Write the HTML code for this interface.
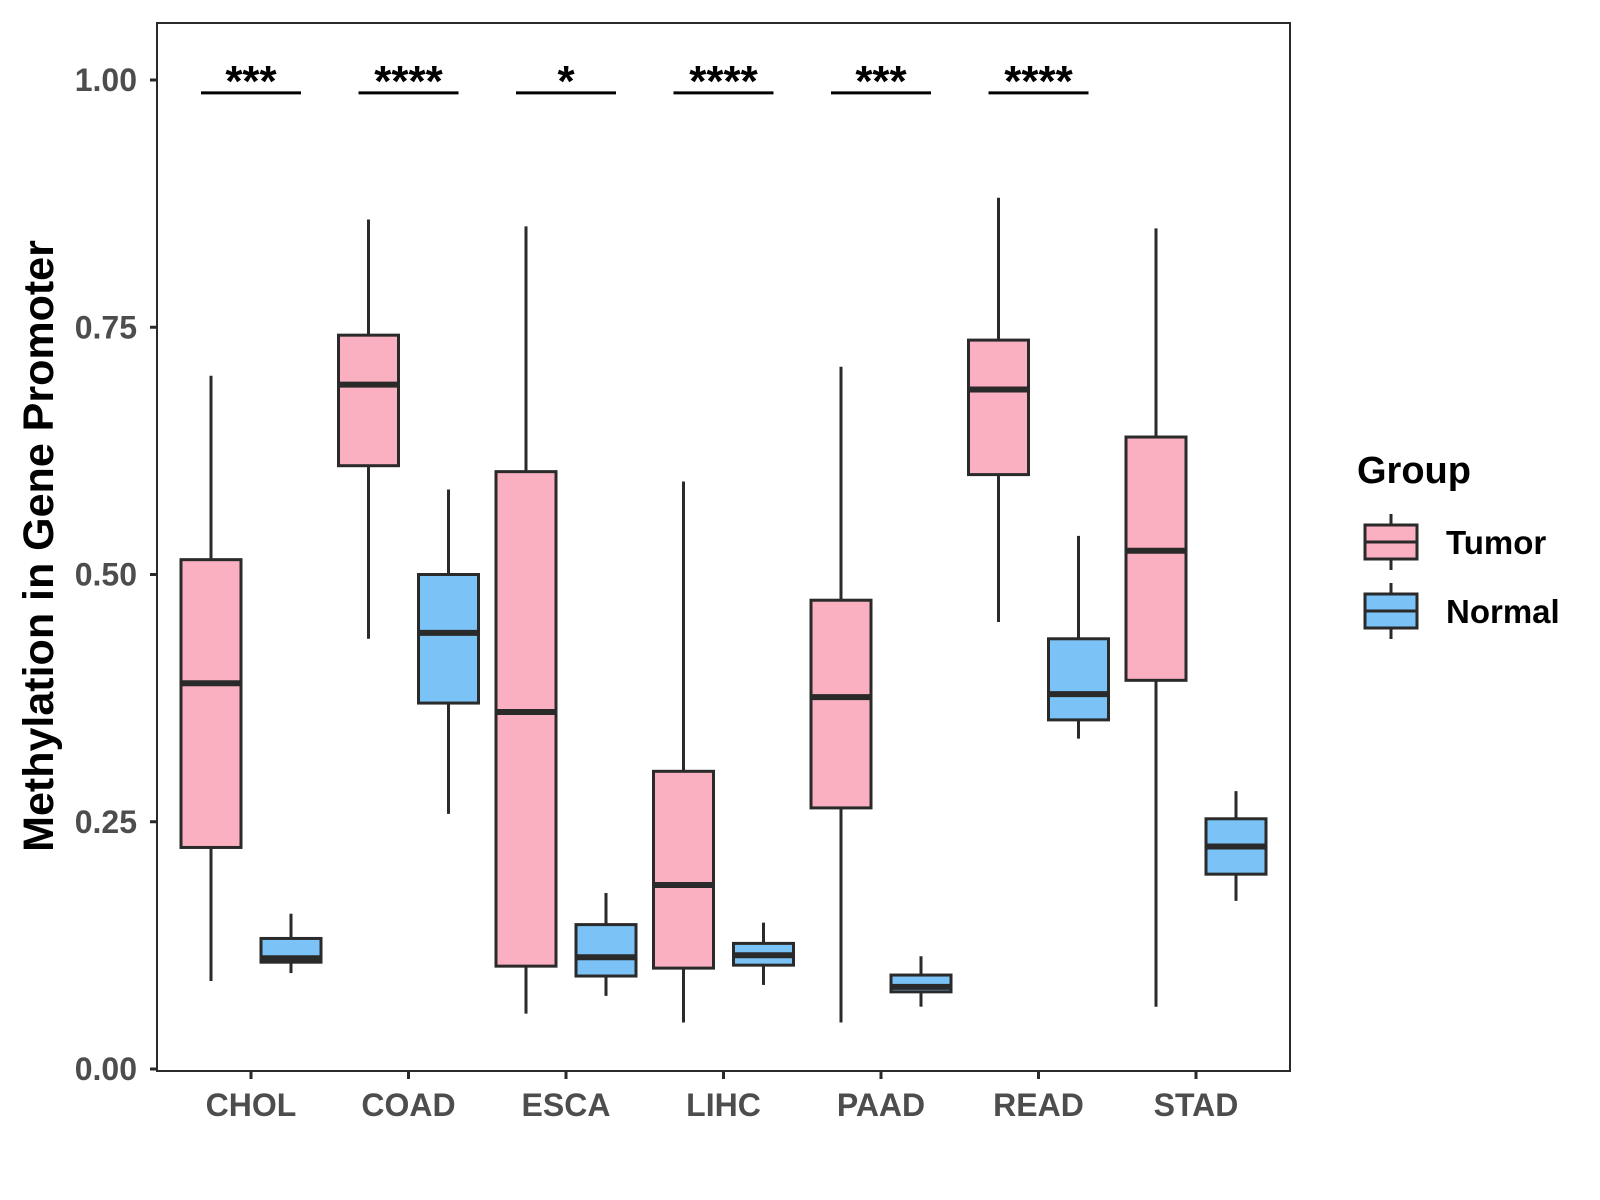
<!DOCTYPE html>
<html><head><meta charset="utf-8"><style>body{margin:0;background:#fff}svg{display:block;font-family:"Liberation Sans",Arial,sans-serif;font-weight:bold}</style></head>
<body>
<svg id="chart" width="1600" height="1200" xmlns="http://www.w3.org/2000/svg">
<rect x="0" y="0" width="1600" height="1200" fill="#fff"/>
<rect x="157" y="23" width="1133" height="1048" fill="none" stroke="#2a2a2a" stroke-width="2"/>
<g id="marks"></g>
<text transform="translate(53,546) rotate(-90)" text-anchor="middle" font-size="43" fill="#000">Methylation in Gene Promoter</text>
<g>
<text x="1357" y="483" font-size="38" fill="#000">Group</text>
<g>
<line x1="1391" y1="514" x2="1391" y2="570" stroke="#2a2a2a" stroke-width="3"/>
<rect x="1365" y="525" width="52" height="34" fill="#FBB0C1" stroke="#2a2a2a" stroke-width="3"/>
<line x1="1365" y1="542" x2="1417" y2="542" stroke="#2a2a2a" stroke-width="3"/>
<text x="1446" y="554" font-size="33" fill="#000">Tumor</text></g>
<g>
<line x1="1391" y1="583" x2="1391" y2="639" stroke="#2a2a2a" stroke-width="3"/>
<rect x="1365" y="594" width="52" height="34" fill="#7BC3F6" stroke="#2a2a2a" stroke-width="3"/>
<line x1="1365" y1="611" x2="1417" y2="611" stroke="#2a2a2a" stroke-width="3"/>
<text x="1446" y="623" font-size="33" fill="#000">Normal</text></g>
</g>
</svg>
<script>
const categories=["CHOL","COAD","ESCA","LIHC","PAAD","READ","STAD"];
// [low, Q1, median, Q3, high]
const tumorStats=[[0.089,0.224,0.390,0.515,0.701],[0.435,0.610,0.692,0.742,0.859],[0.056,0.104,0.361,0.604,0.852],[0.047,0.102,0.186,0.301,0.594],[0.047,0.264,0.376,0.474,0.710],[0.452,0.601,0.687,0.737,0.881],[0.063,0.393,0.524,0.639,0.850]];
const normalStats=[[0.097,0.108,0.112,0.132,0.157],[0.258,0.370,0.441,0.500,0.586],[0.074,0.094,0.113,0.146,0.178],[0.085,0.105,0.115,0.127,0.148],[0.063,0.078,0.083,0.095,0.114],[0.334,0.353,0.379,0.435,0.539],[0.170,0.197,0.225,0.253,0.281]];
const sigLabels=["***","****","*","****","***","****",""];
const sigLevel=0.987;
const yTicks=[0,0.25,0.5,0.75,1.0];
const yTickLabels=["0.00","0.25","0.50","0.75","1.00"];
const NS="http://www.w3.org/2000/svg";
const g=document.getElementById('marks');
function yS(v){return 1069-v*989;}
function xS(i){return 251+i*157.5;}
function mk(t,a){const e=document.createElementNS(NS,t);for(const k in a)e.setAttribute(k,a[k]);g.appendChild(e);return e;}
yTicks.forEach((v,i)=>{
 const t=mk('line',{x1:150,x2:157,y1:yS(v),y2:yS(v),stroke:'#2a2a2a','stroke-width':3});
 
 
 const l=mk('text',{x:137,y:yS(v)+11,'text-anchor':'end','font-size':32,fill:'#4d4d4d'});
 l.textContent=yTickLabels[i];
 
 
});
categories.forEach((c,i)=>{
 const t=mk('line',{x1:xS(i),x2:xS(i),y1:1071,y2:1079,stroke:'#2a2a2a','stroke-width':3});
 
 
 const l=mk('text',{x:xS(i),y:1116,'text-anchor':'middle','font-size':32,fill:'#4d4d4d'});
 l.textContent=c;
 
 
 [[tumorStats[i],-40,'#FBB0C1','tumor'],[normalStats[i],40,'#7BC3F6','normal']].forEach(([s,off,col,nm])=>{
  const cx=xS(i)+off;
  const w=mk('line',{x1:cx,x2:cx,y1:yS(s[0]),y2:yS(s[4]),stroke:'#2a2a2a','stroke-width':3});
  
  
  const r=mk('rect',{x:cx-30,y:yS(s[3]),width:60,height:yS(s[1])-yS(s[3]),fill:col,stroke:'#2a2a2a','stroke-width':3});
  
  
  const m=mk('line',{x1:cx-30,x2:cx+30,y1:yS(s[2]),y2:yS(s[2]),stroke:'#2a2a2a','stroke-width':6});
  
  
 });
 if(sigLabels[i]){
  const b=mk('line',{x1:xS(i)-50,x2:xS(i)+50,y1:yS(sigLevel),y2:yS(sigLevel),stroke:'#000','stroke-width':3});
  
  
  const s=mk('text',{x:xS(i),y:yS(sigLevel)+3,'text-anchor':'middle','font-size':44,fill:'#000'});
  s.textContent=sigLabels[i];
  
  
 }
});
</script>
</body></html>
